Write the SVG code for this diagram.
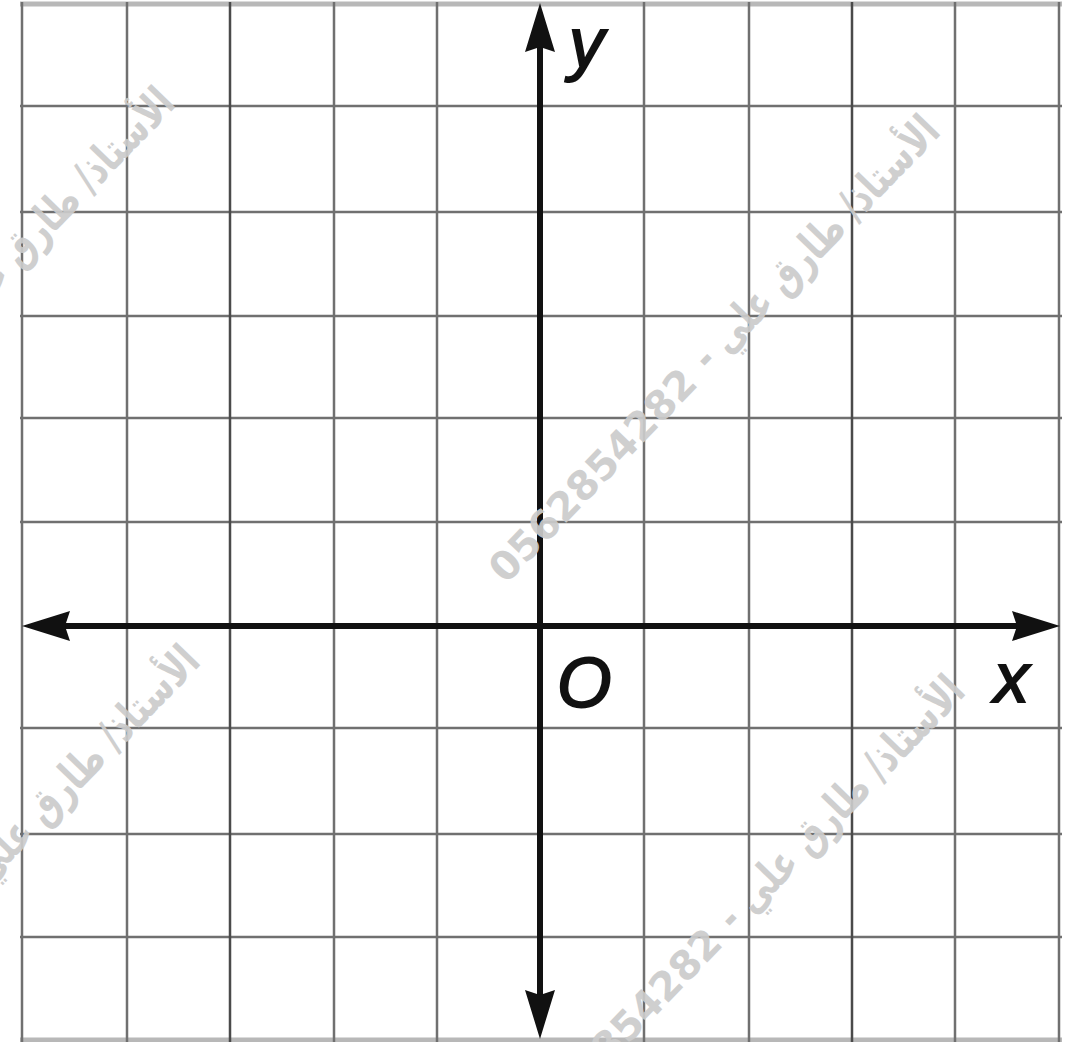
<svg xmlns="http://www.w3.org/2000/svg" width="1069" height="1042" viewBox="0 0 1069 1042">
<style>
.g{stroke:#707070;stroke-width:2.5;fill:none}
.gd{stroke:#4a4a4a;stroke-width:2.5;fill:none}
.gl{stroke:#b8b8b8;stroke-width:5;fill:none}
.ax{stroke:#111;stroke-width:6;fill:none}
.ah{fill:#111}
.lbl{font-family:"Liberation Sans",Arial,sans-serif;font-style:italic;font-size:70px;fill:#111;stroke:#111;stroke-width:2}
.wn{font-family:"DejaVu Sans",sans-serif;font-weight:bold;font-size:40px;fill:#cccccc;opacity:0.92}
.wa{font-family:"DejaVu Sans",sans-serif;font-weight:bold;font-size:44px;fill:#cccccc;opacity:0.92}
</style>
<defs>
<g id="wmark">
<text class="wn" x="0" y="0">0562854282</text>
<text class="wa" x="628" y="0" direction="rtl" text-anchor="start" textLength="334" lengthAdjust="spacingAndGlyphs">الأستاذ/ طارق علي -</text>
</g>
</defs>
<rect width="1069" height="1042" fill="#fff"/>
<g id="grid">
<line class="gl" x1="20" y1="4" x2="1062" y2="4"/>
<line class="gl" x1="20" y1="1040" x2="1062" y2="1040"/>
<line class="g" x1="20" y1="106" x2="1062" y2="106"/>
<line class="g" x1="20" y1="212" x2="1062" y2="212"/>
<line class="g" x1="20" y1="316" x2="1062" y2="316"/>
<line class="g" x1="20" y1="418" x2="1062" y2="418"/>
<line class="g" x1="20" y1="522" x2="1062" y2="522"/>
<line class="g" x1="20" y1="728" x2="1062" y2="728"/>
<line class="g" x1="20" y1="834" x2="1062" y2="834"/>
<line class="g" x1="20" y1="937" x2="1062" y2="937"/>
<line class="g" x1="22" y1="2" x2="22" y2="1042"/>
<line class="g" x1="127" y1="2" x2="127" y2="1042"/>
<line class="gd" x1="230" y1="2" x2="230" y2="1042"/>
<line class="g" x1="334" y1="2" x2="334" y2="1042"/>
<line class="g" x1="437" y1="2" x2="437" y2="1042"/>
<line class="g" x1="644" y1="2" x2="644" y2="1042"/>
<line class="g" x1="749" y1="2" x2="749" y2="1042"/>
<line class="gd" x1="852" y1="2" x2="852" y2="1042"/>
<line class="g" x1="955" y1="2" x2="955" y2="1042"/>
<line class="g" x1="1059" y1="2" x2="1059" y2="1042"/>
</g>
<g id="connectors">
<line class="ax" x1="60" y1="626" x2="1020" y2="626"/>
<line class="ax" x1="540" y1="40" x2="540" y2="1000"/>
<polygon class="ah" points="540,3 555,52 540,47 525,52"/>
<polygon class="ah" points="540,1039 555,990 540,995 525,990"/>
<polygon class="ah" points="22,626 70,611 65,626 70,641"/>
<polygon class="ah" points="1060,626 1012,611 1017,626 1012,641"/>
</g>
<g id="labels">
<text class="lbl" x="569" y="67">y</text>
<text class="lbl" x="557" y="707">O</text>
<text class="lbl" x="994" y="702">x</text>
</g>
<g id="watermarks">
<use href="#wmark" transform="translate(506,585) rotate(-46)"/>
<use href="#wmark" transform="translate(531,1145) rotate(-46)"/>
<use href="#wmark" transform="translate(-259,557) rotate(-46)"/>
<use href="#wmark" transform="translate(-234,1115) rotate(-46)"/>
</g>
</svg>
